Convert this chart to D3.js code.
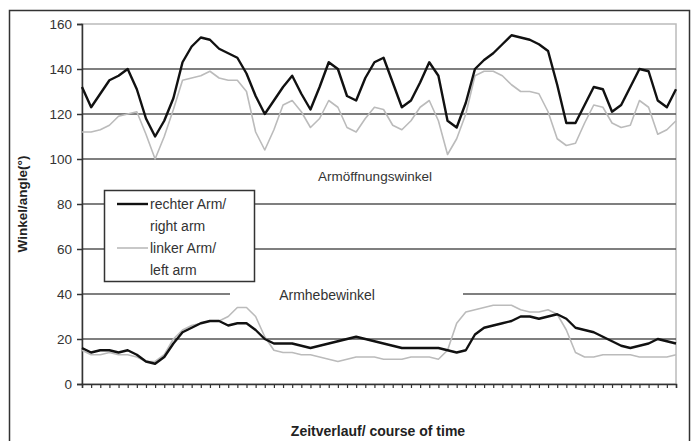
<!DOCTYPE html>
<html><head><meta charset="utf-8">
<script src="https://cdn.jsdelivr.net/npm/d3@7"></script>
<style>body{margin:0;background:#fff}svg{display:block}text{font-family:"Liberation Sans",Arial,sans-serif}</style>
</head><body>
<script>
const yTicks = [0,20,40,60,80,100,120,140,160];
const seriesNames = ["rechter Arm/|right arm","linker Arm/|left arm"];
const openRight = [132,123,129,135,137,140,131,118,110,117,127,143,150,154,153,149,147,145,138,128,120,126,132,137,129,122,132,143,140,128,126,136,143,145,134,123,126,134,143,137,117,114,125,140,144,147,151,155,154,153,151,148,133,116,116,124,132,131,121,124,132,140,139,126,123,131];
const openLeft = [112,112,113,115,119,120,121,111,100,110,122,135,136,137,139,136,135,135,130,112,104,113,124,126,121,114,118,126,123,114,112,118,123,122,115,113,117,123,126,117,102,109,120,137,139,139,137,133,130,130,129,121,109,106,107,116,124,123,116,114,115,126,123,111,113,117];
const liftRight = [16,14,15,15,14,15,13,10,9,12,18,23,25,27,28,28,26,27,27,24,20,18,18,18,17,16,17,18,19,20,21,20,19,18,17,16,16,16,16,16,15,14,15,22,25,26,27,28,30,30,29,30,31,29,25,24,23,21,19,17,16,17,18,20,19,18];
const liftLeft = [15,13,13,14,13,13,12,10,10,13,20,24,26,27,28,28,30,34,34,30,21,15,14,14,13,13,12,11,10,11,12,12,12,11,11,11,12,12,12,11,15,27,32,33,34,35,35,35,33,32,32,33,31,24,14,12,12,13,13,13,13,12,12,12,12,13];
const labelOpen = "Armöffnungswinkel";
const labelLift = "Armhebewinkel";
const yTitle = "Winkel/angle(°)";
const xTitle = "Zeitverlauf/ course of time";

const W=694,H=441;
const L=82,R=676,T=24,B=384;
const svg=d3.select("body").append("svg").attr("width",W).attr("height",H);
svg.append("rect").attr("x",9.5).attr("y",10.5).attr("width",680).attr("height",440).attr("fill","#fff").attr("stroke","#333").attr("stroke-width",1.5);

const n=openRight.length;
const x=d3.scaleLinear().domain([0,n-1]).range([L,R]);
const y=d3.scaleLinear().domain([0,160]).range([B,T]);

svg.append("rect").attr("x",L).attr("y",T).attr("width",R-L).attr("height",B-T).attr("fill","none").attr("stroke","#bbb").attr("stroke-width",1.5);
svg.append("g").selectAll("line").data(yTicks.filter(d=>d>0&&d<160)).join("line")
  .attr("x1",L).attr("x2",R).attr("y1",d=>y(d)).attr("y2",d=>y(d)).attr("stroke","#555").attr("stroke-width",1.6);

const ya=svg.append("g").attr("transform",`translate(${L},0)`).call(d3.axisLeft(y).tickValues(yTicks).tickSize(5).tickPadding(5));
ya.select(".domain").attr("stroke","#333").attr("stroke-width",1.5);
ya.selectAll(".tick line").attr("stroke","#333").attr("stroke-width",1.5);
ya.selectAll("text").attr("font-size",13.5).attr("fill","#333").style("font-family","Liberation Sans, Arial, sans-serif");

const xa=svg.append("g").attr("transform",`translate(0,${B})`).call(d3.axisBottom(x).tickValues(d3.range(n)).tickSize(4).tickFormat(""));
xa.select(".domain").attr("stroke","#333").attr("stroke-width",1.5);
xa.selectAll(".tick line").attr("stroke","#333").attr("stroke-width",1.2);

const line=d3.line().x((d,i)=>x(i)).y(d=>y(d));
const lines=[[openLeft,"#bbb",1.6],[liftLeft,"#bbb",1.6],[openRight,"#111",2.4],[liftRight,"#111",2.4]];
lines.forEach(([d,c,w])=>svg.append("path").datum(d).attr("d",line).attr("fill","none").attr("stroke",c).attr("stroke-width",w).attr("stroke-linejoin","round"));

svg.append("text").attr("x",375).attr("y",181).attr("text-anchor","middle").attr("font-size",13.5).attr("fill","#333").text(labelOpen);
svg.append("rect").attr("x",230).attr("y",284).attr("width",233).attr("height",21).attr("fill","#fff");
svg.append("text").attr("x",327).attr("y",300).attr("text-anchor","middle").attr("font-size",14).attr("fill","#333").text(labelLift);

const lg=svg.append("g");
lg.append("rect").attr("x",104.5).attr("y",190.5).attr("width",150).attr("height",91).attr("fill","#fff").attr("stroke","#333").attr("stroke-width",1.5);
const lc=[["#111",2.4],["#bbb",1.6]];
seriesNames.forEach((s,i)=>{
  const yy=204+i*44;
  lg.append("line").attr("x1",117).attr("x2",148).attr("y1",yy).attr("y2",yy).attr("stroke",lc[i][0]).attr("stroke-width",lc[i][1]);
  s.split("|").forEach((p,j)=>lg.append("text").attr("x",150).attr("y",yy+5+j*22).attr("font-size",14).attr("fill","#333").text(p));
});

svg.append("text").attr("transform",`translate(27,204) rotate(-90)`).attr("text-anchor","middle").attr("font-size",13.5).attr("font-weight","bold").attr("fill","#222").text(yTitle);
svg.append("text").attr("x",378).attr("y",436).attr("text-anchor","middle").attr("font-size",14).attr("font-weight","bold").attr("fill","#222").text(xTitle);
</script>
</body></html>
